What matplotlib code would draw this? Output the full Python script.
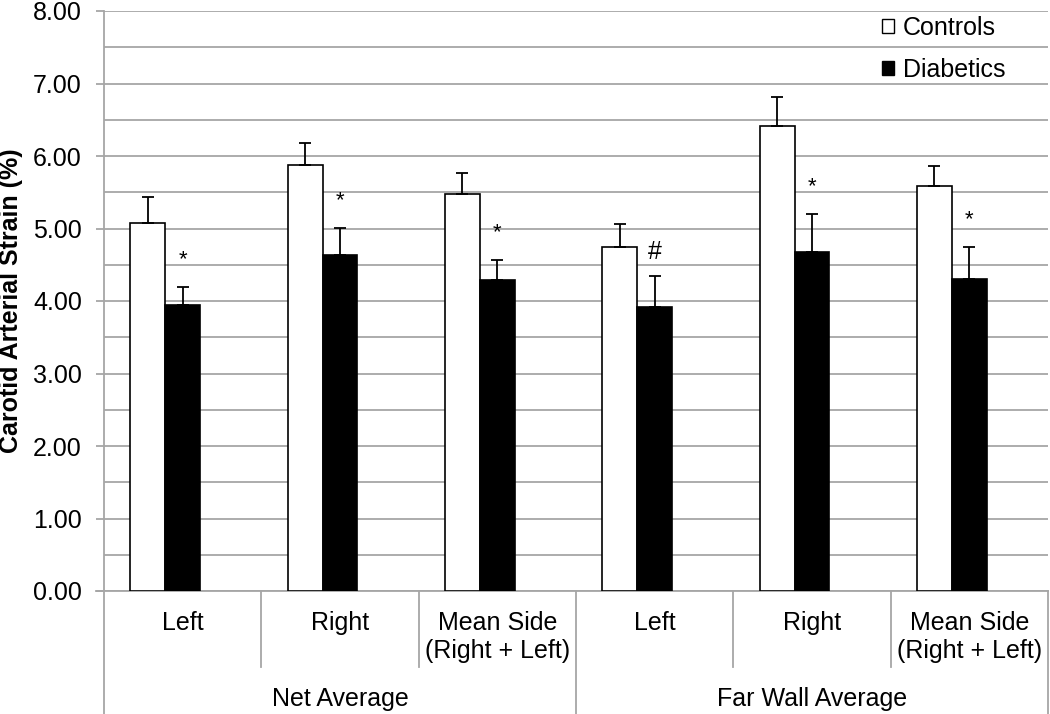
import matplotlib.pyplot as plt
import matplotlib.transforms as mtrans
from matplotlib.lines import Line2D
from matplotlib.patches import Patch
import numpy as np

plt.rcParams['font.family'] = ['Liberation Sans', 'DejaVu Sans']

# data
sides = ['Left', 'Right', 'Mean Side\n(Right + Left)'] * 2
groups = ['Net Average', 'Far Wall Average']
controls = [5.08, 5.87, 5.48, 4.74, 6.41, 5.58]
controls_err = [0.35, 0.31, 0.29, 0.32, 0.40, 0.28]
diabetics = [3.94, 4.64, 4.29, 3.92, 4.68, 4.30]
diabetics_err = [0.26, 0.37, 0.28, 0.42, 0.52, 0.44]
marks = ['*', '*', '*', '#', '*', '*']

W, H = 1050, 714
fs = 18
fig = plt.figure(figsize=(W / 100, H / 100), dpi=100)
ax = fig.add_axes([104 / W, (H - 591) / H, (1048 - 104) / W, 580 / H])

grid_c = '#a6a6a6'
n = len(controls)
x = np.arange(n) + 0.5
bw = 0.222

ax.bar(x - bw, controls, bw, color='white', edgecolor='black', lw=1.2, zorder=3)
ax.bar(x, diabetics, bw, color='black', edgecolor='black', lw=1.2, zorder=3)
ax.errorbar(x - bw, controls, yerr=[np.zeros(n), controls_err], fmt='none', ecolor='black',
            elinewidth=1.3, capsize=4.5, capthick=1.3, zorder=4)
ax.errorbar(x, diabetics, yerr=[np.zeros(n), diabetics_err], fmt='none', ecolor='black',
            elinewidth=1.3, capsize=4.5, capthick=1.3, zorder=4)

for i in range(n):
    top = diabetics[i] + diabetics_err[i]
    if marks[i] == '#':
        ax.annotate(marks[i], (x[i], top), xytext=(0, 9), textcoords='offset points',
                    ha='center', va='bottom', fontsize=18)
    else:
        ax.annotate(marks[i], (x[i], top), xytext=(0, 12), textcoords='offset points',
                    ha='center', va='bottom', fontsize=16)

ax.set_xlim(0, n)
ax.set_ylim(0, 8)
ax.set_yticks(np.arange(0, 8.01, 1))
ax.set_yticklabels(['%.2f' % v for v in np.arange(0, 8.01, 1)], fontsize=fs)
ax.set_yticks(np.arange(0.5, 8, 1), minor=True)
ax.tick_params(axis='y', which='major', length=6, color=grid_c, width=1.3, pad=10)
ax.tick_params(axis='y', which='minor', length=0)
ax.set_xticks([])
ax.grid(axis='y', which='both', color=grid_c, lw=1.3, zorder=0)
ax.set_axisbelow(True)
for s in ['top', 'right']:
    ax.spines[s].set_visible(False)
ax.spines['left'].set_color(grid_c)
ax.spines['left'].set_linewidth(1.3)
ax.spines['bottom'].set_color(grid_c)
ax.spines['bottom'].set_linewidth(1.3)
ax.set_ylabel('Carotid Arterial Strain (%)', fontsize=fs, fontweight='bold')
ax.yaxis.set_label_coords(-0.086, 0.5)

# category labels and separators below the axis
tr = mtrans.blended_transform_factory(ax.transData, ax.transAxes)
for i in range(n):
    ax.text(x[i], -0.034, sides[i], transform=tr, ha='center', va='top', fontsize=fs,
            linespacing=1.25)
for b in range(n + 1):
    y_end = -0.212 if b % 3 == 0 else -0.131
    ax.add_line(Line2D([b, b], [0, y_end], transform=tr, color=grid_c, lw=1.3, clip_on=False))
for g, name in enumerate(groups):
    ax.text(g * 3 + 1.5, -0.186, name, transform=tr, ha='center', va='center', fontsize=fs)
ax.add_line(Line2D([-0.05, 0], [0, 0], transform=tr, color=grid_c, lw=1.3, clip_on=False))

handles = [Patch(facecolor='white', edgecolor='black', lw=1),
           Patch(facecolor='black', edgecolor='black', lw=1)]
ax.legend(handles, ['Controls', 'Diabetics'], loc='upper right', bbox_to_anchor=(0.979, 1.031),
          frameon=False, fontsize=fs, handlelength=0.5, handleheight=0.5,
          handletextpad=0.35, labelspacing=0.72)

fig.savefig('out.png', dpi=100)
